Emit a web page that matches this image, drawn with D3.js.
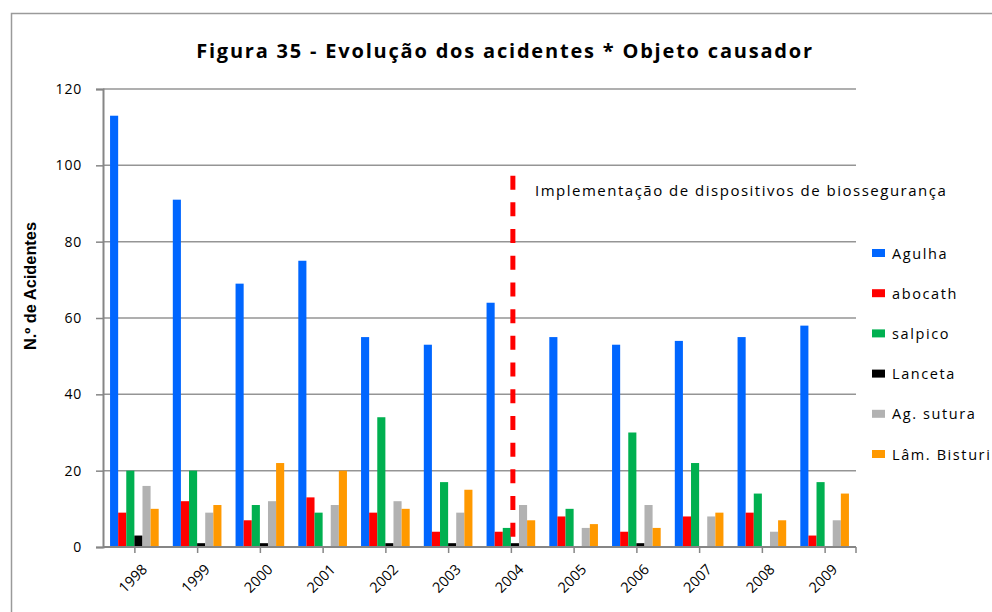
<!DOCTYPE html>
<html>
<head>
<meta charset="utf-8">
<script src="https://cdn.jsdelivr.net/npm/d3@7"></script>
<style>
  html, body { margin: 0; padding: 0; background: #fff; }
  svg { display: block; font-family: "Open Sans", "DejaVu Sans", sans-serif; }
</style>
</head>
<body>
<svg id="chart" width="992" height="612"></svg>
<script>
// Years on the category axis
const years = ["1998","1999","2000","2001","2002","2003","2004","2005","2006","2007","2008","2009"];

// Accident counts per causing object
const agulha   = [113, 91, 69, 75, 55, 53, 64, 55, 53, 54, 55, 58];
const abocath  = [9, 12, 7, 13, 9, 4, 4, 8, 4, 8, 9, 3];
const salpico  = [20, 20, 11, 9, 34, 17, 5, 10, 30, 22, 14, 17];
const lanceta  = [3, 1, 1, 0, 1, 1, 1, 0, 1, 0, 0, 0];
const agSutura = [16, 9, 12, 11, 12, 9, 11, 5, 11, 8, 4, 7];
const lamBisturi = [10, 11, 22, 20, 10, 15, 7, 6, 5, 9, 7, 14];

const seriesNames  = ["Agulha", "abocath", "salpico", "Lanceta", "Ag. sutura", "Lâm. Bisturi"];
const seriesValues = [agulha, abocath, salpico, lanceta, agSutura, lamBisturi];
const seriesColors = ["#0066ff", "#ff0000", "#00b050", "#000000", "#b2b2b2", "#ff9900"];

const yTicks = [0, 20, 40, 60, 80, 100, 120];

// Reference line marking the introduction of safety devices
const markerYear = "2004";
const markerTop = 98;
const markerLabel = "Implementação de dispositivos de biossegurança";

const title = "Figura 35 - Evolução dos acidentes * Objeto causador";
const yTitle = "N.º de Acidentes";

const svg = d3.select("#chart");

// outer frame
svg.append("path")
  .attr("d", "M11.5,612 L11.5,13.5 L992,13.5")
  .attr("fill", "none")
  .attr("stroke", "#9a9a9a")
  .attr("stroke-width", 1.5);

const plot = { left: 103, right: 856, top: 89, bottom: 547 };

const x0 = d3.scaleBand().domain(years).range([plot.left, plot.right]).padding(0);
const x1 = d3.scaleBand().domain(seriesNames).range([0, x0.bandwidth()])
  .paddingInner(0).paddingOuter(0.87);
const y = d3.scaleLinear().domain([0, 120]).range([plot.bottom, plot.top]);

// gridlines
svg.append("g").selectAll("line")
  .data(yTicks.filter(d => d > 0))
  .join("line")
  .attr("x1", plot.left).attr("x2", plot.right)
  .attr("y1", d => y(d)).attr("y2", d => y(d))
  .attr("stroke", "#959595").attr("stroke-width", 1.5);

// bars
const groups = svg.append("g").selectAll("g")
  .data(years)
  .join("g")
  .attr("transform", d => `translate(${x0(d)},0)`);

groups.selectAll("rect")
  .data((yr, i) => seriesNames.map((s, k) => ({ s, k, v: seriesValues[k][i] })))
  .join("rect")
  .attr("x", d => x1(d.s))
  .attr("width", x1.bandwidth())
  .attr("y", d => y(d.v))
  .attr("height", d => y(0) - y(d.v))
  .attr("fill", d => seriesColors[d.k]);

// y axis
const yAxis = d3.axisLeft(y).tickValues(yTicks).tickSize(7).tickPadding(14);
const gy = svg.append("g").attr("transform", `translate(${plot.left},0)`).call(yAxis);
gy.select(".domain").attr("stroke", "#868686").attr("stroke-width", 2);
gy.selectAll(".tick line").attr("stroke", "#868686").attr("stroke-width", 1.5);
gy.selectAll(".tick text")
  .attr("font-family", "Open Sans, sans-serif")
  .attr("font-size", 14).attr("letter-spacing", 0.8).attr("fill", "#000");

// x axis: ticks at category centres
const xAxis = d3.axisBottom(d3.scalePoint().domain(years)
    .range([x0(years[0]) + x0.bandwidth() / 2, x0(years[years.length - 1]) + x0.bandwidth() / 2]))
  .tickSize(6).tickSizeOuter(0);
const gx = svg.append("g").attr("transform", `translate(0,${plot.bottom})`).call(xAxis);
gx.select(".domain").remove();
gx.append("line")
  .attr("x1", plot.left).attr("x2", plot.right)
  .attr("stroke", "#868686").attr("stroke-width", 2);
gx.append("line")
  .attr("x1", plot.right).attr("x2", plot.right).attr("y2", 6)
  .attr("stroke", "#868686").attr("stroke-width", 1.5);
gx.selectAll(".tick line").attr("stroke", "#868686").attr("stroke-width", 1.5);
gx.selectAll(".tick text")
  .attr("font-family", "Open Sans, sans-serif")
  .attr("font-size", 14.5).attr("fill", "#000")
  .attr("text-anchor", "end")
  .attr("dy", null)
  .attr("transform", "translate(7,17) rotate(-45)");

// dashed marker line
const mx = x0(markerYear) + x0.bandwidth() / 2 + 2;
svg.append("line")
  .attr("x1", mx).attr("x2", mx)
  .attr("y1", y(markerTop)).attr("y2", y(0))
  .attr("stroke", "#ff0000").attr("stroke-width", 5)
  .attr("stroke-dasharray", "14,12.7")
  .attr("stroke-dashoffset", 24);

svg.append("text")
  .attr("x", 535).attr("y", 196)
  .attr("font-size", 15).attr("letter-spacing", 1.5)
  .attr("fill", "#000")
  .text(markerLabel);

// title
svg.append("text")
  .attr("x", 505).attr("y", 58)
  .attr("text-anchor", "middle")
  .attr("font-size", 20).attr("font-weight", "bold").attr("letter-spacing", 1.8)
  .attr("fill", "#000")
  .text(title);

// y axis title
svg.append("text")
  .attr("transform", "translate(36,286) rotate(-90)")
  .attr("text-anchor", "middle")
  .attr("font-family", "'Liberation Sans Narrow', 'Liberation Sans', sans-serif")
  .attr("font-size", 16).attr("font-weight", "bold")
  .attr("textLength", 128).attr("lengthAdjust", "spacingAndGlyphs")
  .attr("fill", "#000")
  .text(yTitle);

// legend
const legend = svg.append("g").selectAll("g")
  .data(seriesNames)
  .join("g")
  .attr("transform", (d, i) => `translate(872,${253 + i * 40.2})`);
legend.append("rect")
  .attr("x", 0).attr("y", -4).attr("width", 13).attr("height", 8)
  .attr("fill", (d, i) => seriesColors[i]);
legend.append("text")
  .attr("x", 20).attr("y", 5.5)
  .attr("font-size", 14.5).attr("letter-spacing", 1.6)
  .attr("fill", "#000")
  .text(d => d);
</script>
</body>
</html>
